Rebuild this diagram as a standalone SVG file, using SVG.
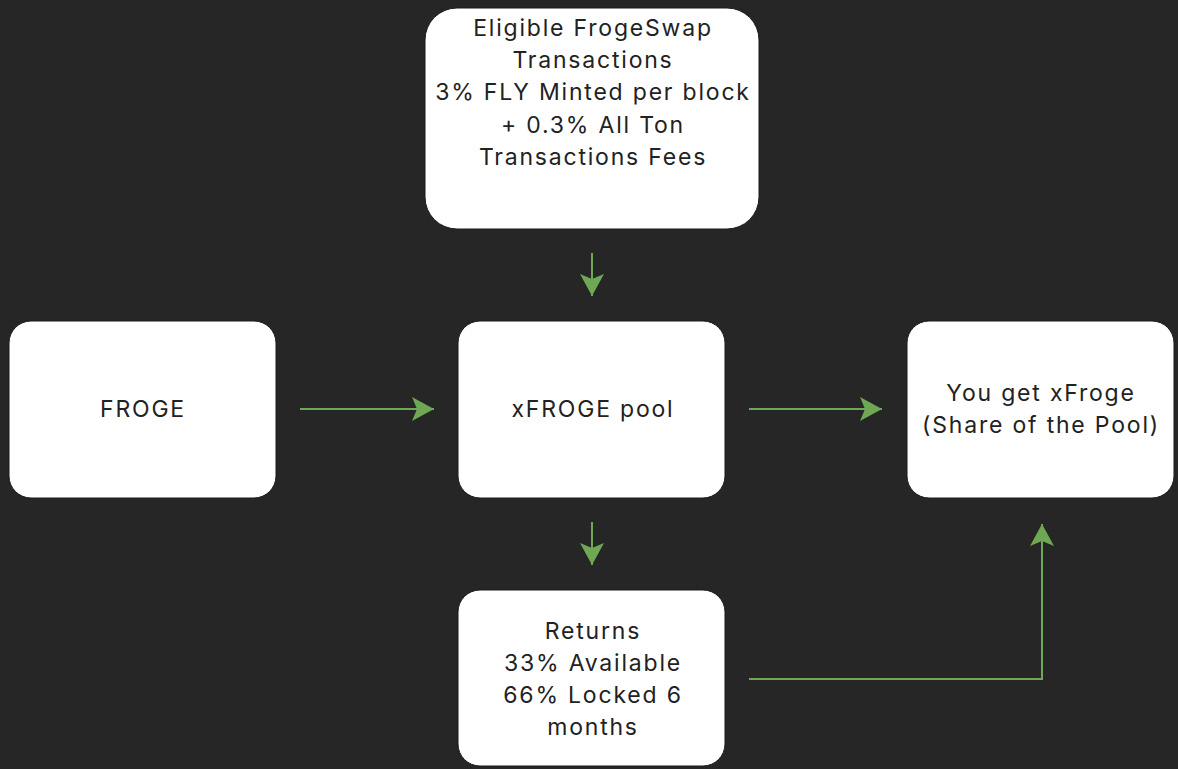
<svg xmlns="http://www.w3.org/2000/svg" width="1178" height="769" viewBox="0 0 1178 769">
<style>
.box{fill:#ffffff;stroke:#1a1a1a;stroke-width:1}
.t{font-family:Inter,"Liberation Sans",sans-serif;font-size:23px;letter-spacing:1.8px;fill:#222222;text-anchor:middle}
.c{fill:none;stroke:#6fa854;stroke-width:2}
</style>
<defs>
<marker id="ah2" viewBox="0 0 24 24" refX="22" refY="12" markerWidth="24" markerHeight="24" markerUnits="userSpaceOnUse" orient="auto">
<path d="M0,0 L22,12 L0,24 L5,12 Z" fill="#6fa854"/>
</marker>
</defs>
<rect width="1178" height="769" fill="#262626"/>
<g id="connectors">
<path class="c" d="M592,253 L592,296" marker-end="url(#ah2)"/>
<path class="c" d="M300,409 L434,409" marker-end="url(#ah2)"/>
<path class="c" d="M749,409 L882,409" marker-end="url(#ah2)"/>
<path class="c" d="M592,522 L592,565" marker-end="url(#ah2)"/>
<path class="c" d="M749,679 L1042,679 L1042,524" marker-end="url(#ah2)"/>
</g>
<g id="node-top">
<rect class="box" x="425" y="8" width="334" height="221" rx="32"/>
<text class="t" x="593" y="36">Eligible FrogeSwap</text>
<text class="t" x="593" y="68">Transactions</text>
<text class="t" x="593" y="100">3% FLY Minted per block</text>
<text class="t" x="593" y="133">+ 0.3% All Ton</text>
<text class="t" x="593" y="165">Transactions Fees</text>
</g>
<g id="node-froge">
<rect class="box" x="9" y="321" width="267" height="177" rx="22"/>
<text class="t" x="143" y="417">FROGE</text>
</g>
<g id="node-pool">
<rect class="box" x="458" y="321" width="267" height="177" rx="22"/>
<text class="t" x="593" y="417">xFROGE pool</text>
</g>
<g id="node-result">
<rect class="box" x="907" y="321" width="267" height="177" rx="22"/>
<text class="t" x="1041" y="401">You get xFroge</text>
<text class="t" x="1041" y="433">(Share of the Pool)</text>
</g>
<g id="node-returns">
<rect class="box" x="458" y="590" width="267" height="176" rx="22"/>
<text class="t" x="593" y="639">Returns</text>
<text class="t" x="593" y="671">33% Available</text>
<text class="t" x="593" y="703">66% Locked 6</text>
<text class="t" x="593" y="735">months</text>
</g>
</svg>
